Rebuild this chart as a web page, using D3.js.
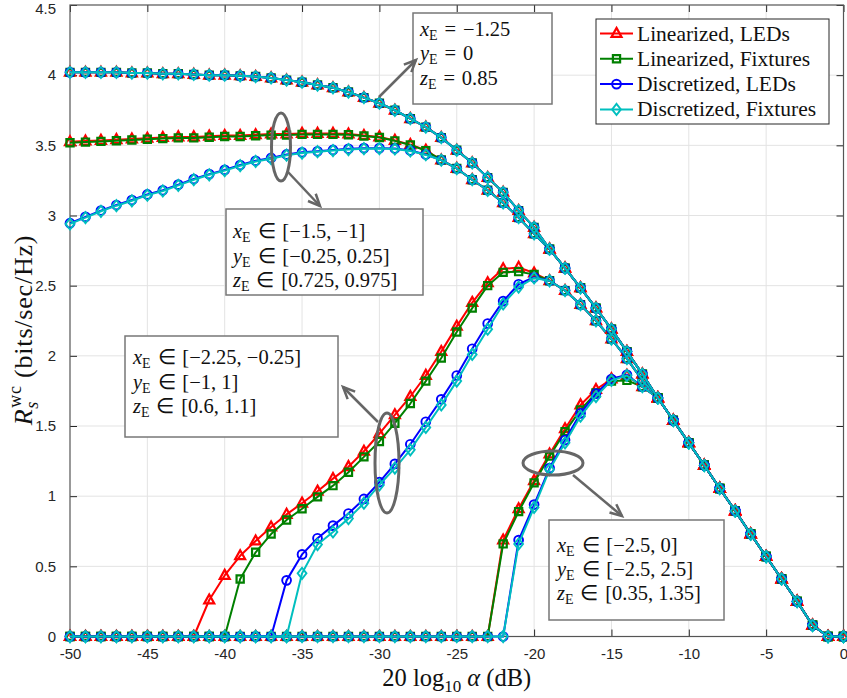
<!DOCTYPE html>
<html>
<head>
<meta charset="utf-8">
<script src="https://cdn.jsdelivr.net/npm/d3@7"></script>
<style>
  html, body { margin: 0; padding: 0; background: #fff; }
  svg { display: block; }
  text { white-space: pre; }
</style>
</head>
<body>
<svg id="chart" width="847" height="698"></svg>
<script>
// Attenuation grid, 20 log10(alpha) in dB
const attenuationDb = [
  -50, -49, -48, -47, -46, -45, -44, -43, -42, -41,
  -40, -39, -38, -37, -36, -35, -34, -33, -32, -31,
  -30, -29, -28, -27, -26, -25, -24, -23, -22, -21,
  -20, -19, -18, -17, -16, -15, -14, -13, -12, -11,
  -10, -9, -8, -7, -6, -5, -4, -3, -2, -1, 0
];

// Eavesdropper at a known point: all four schemes coincide
const rateKnown = [
  4.02, 4.02, 4.02, 4.02, 4.015, 4.015, 4.01, 4.01, 4.005, 4.0,
  4.0, 3.995, 3.99, 3.98, 3.965, 3.95, 3.93, 3.91, 3.88, 3.84,
  3.80, 3.75, 3.69, 3.63, 3.555, 3.465, 3.375, 3.27, 3.165, 3.035,
  2.915, 2.76, 2.625, 2.485, 2.34, 2.19, 2.03, 1.87, 1.70, 1.54,
  1.38, 1.22, 1.055, 0.895, 0.73, 0.57, 0.41, 0.25, 0.08, 0, 0
];

// Small uncertainty region
const rateSmallLinLed = [
  3.525, 3.53, 3.535, 3.54, 3.545, 3.55, 3.555, 3.56, 3.56, 3.565,
  3.57, 3.57, 3.575, 3.58, 3.58, 3.585, 3.585, 3.585, 3.58, 3.57,
  3.56, 3.535, 3.505, 3.465, 3.395, 3.335, 3.255, 3.18, 3.09, 2.985,
  2.87, 2.76, 2.625, 2.485, 2.34, 2.19, 2.03, 1.87, 1.70, 1.54,
  1.38, 1.22, 1.055, 0.895, 0.73, 0.57, 0.41, 0.25, 0.08, 0, 0
];
const rateSmallLinFix = [
  3.518, 3.523, 3.528, 3.533, 3.538, 3.543, 3.548, 3.553, 3.553, 3.558,
  3.563, 3.563, 3.568, 3.573, 3.573, 3.578, 3.578, 3.578, 3.575, 3.566,
  3.556, 3.532, 3.502, 3.462, 3.395, 3.335, 3.255, 3.18, 3.09, 2.985,
  2.87, 2.76, 2.625, 2.485, 2.34, 2.19, 2.03, 1.87, 1.70, 1.54,
  1.38, 1.22, 1.055, 0.895, 0.73, 0.57, 0.41, 0.25, 0.08, 0, 0
];
const rateSmallDisLed = [
  2.945, 2.99, 3.035, 3.075, 3.11, 3.15, 3.18, 3.22, 3.26, 3.295,
  3.325, 3.36, 3.39, 3.41, 3.435, 3.45, 3.458, 3.467, 3.475, 3.48,
  3.48, 3.477, 3.463, 3.435, 3.395, 3.335, 3.255, 3.18, 3.09, 2.985,
  2.87, 2.76, 2.625, 2.485, 2.34, 2.19, 2.03, 1.87, 1.70, 1.54,
  1.38, 1.22, 1.055, 0.895, 0.73, 0.57, 0.41, 0.25, 0.08, 0, 0
];
const rateSmallDisFix = [
  2.94, 2.985, 3.03, 3.07, 3.105, 3.145, 3.175, 3.215, 3.255, 3.29,
  3.32, 3.355, 3.385, 3.405, 3.43, 3.445, 3.455, 3.463, 3.47, 3.476,
  3.477, 3.474, 3.46, 3.433, 3.395, 3.335, 3.255, 3.18, 3.09, 2.985,
  2.87, 2.76, 2.625, 2.485, 2.34, 2.19, 2.03, 1.87, 1.70, 1.54,
  1.38, 1.22, 1.055, 0.895, 0.73, 0.57, 0.41, 0.25, 0.08, 0, 0
];

// Medium uncertainty region
const rateMedLinLed = [
  0, 0, 0, 0, 0, 0, 0, 0, 0, 0.26,
  0.435, 0.575, 0.68, 0.78, 0.87, 0.95, 1.035, 1.125, 1.21, 1.32,
  1.445, 1.58, 1.71, 1.86, 2.03, 2.21, 2.38, 2.52, 2.62, 2.63,
  2.59, 2.535, 2.465, 2.365, 2.25, 2.12, 1.98, 1.825, 1.70, 1.54,
  1.38, 1.22, 1.055, 0.895, 0.73, 0.57, 0.41, 0.25, 0.08, 0, 0
];
const rateMedLinFix = [
  0, 0, 0, 0, 0, 0, 0, 0, 0, 0,
  0, 0.41, 0.60, 0.73, 0.83, 0.91, 0.995, 1.075, 1.17, 1.28,
  1.39, 1.52, 1.66, 1.82, 1.985, 2.17, 2.34, 2.50, 2.595, 2.60,
  2.58, 2.535, 2.465, 2.365, 2.25, 2.12, 1.98, 1.825, 1.70, 1.54,
  1.38, 1.22, 1.055, 0.895, 0.73, 0.57, 0.41, 0.25, 0.08, 0, 0
];
const rateMedDisLed = [
  0, 0, 0, 0, 0, 0, 0, 0, 0, 0,
  0, 0, 0, 0, 0.40, 0.585, 0.70, 0.79, 0.876, 0.98,
  1.10, 1.23, 1.37, 1.53, 1.69, 1.86, 2.05, 2.23, 2.39, 2.51,
  2.56, 2.535, 2.465, 2.365, 2.25, 2.12, 1.98, 1.825, 1.70, 1.54,
  1.38, 1.22, 1.055, 0.895, 0.73, 0.57, 0.41, 0.25, 0.08, 0, 0
];
const rateMedDisFix = [
  0, 0, 0, 0, 0, 0, 0, 0, 0, 0,
  0, 0, 0, 0, 0, 0.45, 0.655, 0.745, 0.84, 0.95,
  1.08, 1.20, 1.33, 1.49, 1.65, 1.82, 2.01, 2.19, 2.37, 2.49,
  2.555, 2.535, 2.465, 2.365, 2.25, 2.12, 1.98, 1.825, 1.70, 1.54,
  1.38, 1.22, 1.055, 0.895, 0.73, 0.57, 0.41, 0.25, 0.08, 0, 0
];

// Large uncertainty region
const rateLargeLinLed = [
  0, 0, 0, 0, 0, 0, 0, 0, 0, 0,
  0, 0, 0, 0, 0, 0, 0, 0, 0, 0,
  0, 0, 0, 0, 0, 0, 0, 0, 0.687, 0.91,
  1.11, 1.30, 1.48, 1.65, 1.76, 1.835, 1.86, 1.78, 1.70, 1.54,
  1.38, 1.22, 1.055, 0.895, 0.73, 0.57, 0.41, 0.25, 0.08, 0, 0
];
const rateLargeLinFix = [
  0, 0, 0, 0, 0, 0, 0, 0, 0, 0,
  0, 0, 0, 0, 0, 0, 0, 0, 0, 0,
  0, 0, 0, 0, 0, 0, 0, 0, 0.66, 0.89,
  1.095, 1.285, 1.46, 1.615, 1.735, 1.82, 1.825, 1.78, 1.70, 1.54,
  1.38, 1.22, 1.055, 0.895, 0.73, 0.57, 0.41, 0.25, 0.08, 0, 0
];
const rateLargeDisLed = [
  0, 0, 0, 0, 0, 0, 0, 0, 0, 0,
  0, 0, 0, 0, 0, 0, 0, 0, 0, 0,
  0, 0, 0, 0, 0, 0, 0, 0, 0, 0.687,
  0.94, 1.20, 1.40, 1.59, 1.73, 1.835, 1.865, 1.78, 1.70, 1.54,
  1.38, 1.22, 1.055, 0.895, 0.73, 0.57, 0.41, 0.25, 0.08, 0, 0
];
const rateLargeDisFix = [
  0, 0, 0, 0, 0, 0, 0, 0, 0, 0,
  0, 0, 0, 0, 0, 0, 0, 0, 0, 0,
  0, 0, 0, 0, 0, 0, 0, 0, 0, 0.66,
  0.92, 1.19, 1.38, 1.57, 1.71, 1.825, 1.86, 1.78, 1.70, 1.54,
  1.38, 1.22, 1.055, 0.895, 0.73, 0.57, 0.41, 0.25, 0.08, 0, 0
];

// Schemes (legend order)
const schemeNames = ["Linearized, LEDs", "Linearized, Fixtures", "Discretized, LEDs", "Discretized, Fixtures"];
const schemeColors = ["#ff0000", "#008000", "#0000ff", "#00bfbf"];
const schemeMarkers = ["triangle", "square", "circle", "diamond"];

const xTicks = [-50, -45, -40, -35, -30, -25, -20, -15, -10, -5, 0];
const yTicks = [0, 0.5, 1, 1.5, 2, 2.5, 3, 3.5, 4, 4.5];

// Eavesdropper region descriptions (math spacing around relations)
const regionKnown = [["x", "E", "\u2004=\u2004−1.25"], ["y", "E", "\u2004=\u20040"], ["z", "E", "\u2004=\u20040.85"]];
const regionSmall = [["x", "E", "\u2004∈\u2004[−1.5, −1]"], ["y", "E", "\u2004∈\u2004[−0.25, 0.25]"], ["z", "E", "\u2004∈\u2004[0.725, 0.975]"]];
const regionMed = [["x", "E", "\u2004∈\u2004[−2.25, −0.25]"], ["y", "E", "\u2004∈\u2004[−1, 1]"], ["z", "E", "\u2004∈\u2004[0.6, 1.1]"]];
const regionLarge = [["x", "E", "\u2004∈\u2004[−2.5, 0]"], ["y", "E", "\u2004∈\u2004[−2.5, 2.5]"], ["z", "E", "\u2004∈\u2004[0.35, 1.35]"]];

// ---------------------------------------------------------------
const curveGroups = [
  [rateKnown, rateKnown, rateKnown, rateKnown],
  [rateSmallLinLed, rateSmallLinFix, rateSmallDisLed, rateSmallDisFix],
  [rateMedLinLed, rateMedLinFix, rateMedDisLed, rateMedDisFix],
  [rateLargeLinLed, rateLargeLinFix, rateLargeDisLed, rateLargeDisFix]
];

const svg = d3.select("#chart");
const plot = { left: 70, right: 843.5, top: 5, bottom: 636.5 };
const x = d3.scaleLinear().domain([-50, 0]).range([plot.left, plot.right]);
const y = d3.scaleLinear().domain([0, 4.5]).range([plot.bottom, plot.top]);

const tickFont = "'Liberation Sans', Arial, Helvetica, sans-serif";
const serif = "'Liberation Serif', 'Times New Roman', serif";
const axisColor = "#262626";

// grid
const grid = svg.append("g");
grid.selectAll("line.gx").data(xTicks.slice(1, -1)).join("line")
  .attr("x1", d => x(d)).attr("x2", d => x(d))
  .attr("y1", plot.top).attr("y2", plot.bottom)
  .attr("stroke", "#e3e3e3").attr("stroke-width", 1);
grid.selectAll("line.gy").data(yTicks.slice(1, -1)).join("line")
  .attr("y1", d => y(d)).attr("y2", d => y(d))
  .attr("x1", plot.left).attr("x2", plot.right)
  .attr("stroke", "#e3e3e3").attr("stroke-width", 1);

// axes with inward ticks on all four sides
const fmt = d => String(d);
function styleAxis(g) {
  g.select(".domain").remove();
  g.selectAll(".tick line").attr("stroke", axisColor).attr("stroke-width", 1);
  g.selectAll(".tick text").attr("fill", axisColor)
    .style("font-family", tickFont).style("font-size", "15px");
}
svg.append("g").attr("transform", `translate(0,${plot.bottom})`)
  .call(d3.axisBottom(x).tickValues(xTicks).tickFormat(fmt).tickSizeInner(-7).tickSizeOuter(0).tickPadding(12))
  .call(styleAxis);
svg.append("g").attr("transform", `translate(0,${plot.top})`)
  .call(d3.axisTop(x).tickValues(xTicks).tickFormat("").tickSizeInner(-7).tickSizeOuter(0))
  .call(styleAxis);
const yAxisG = svg.append("g").attr("transform", `translate(${plot.left},0)`)
  .call(d3.axisLeft(y).tickValues(yTicks).tickFormat(fmt).tickSizeInner(-7).tickSizeOuter(0).tickPadding(14))
  .call(styleAxis);
// keep the topmost label inside the canvas
yAxisG.selectAll(".tick text").filter(d => d === 4.5).attr("dy", "0.55em");
svg.append("g").attr("transform", `translate(${plot.right},0)`)
  .call(d3.axisRight(y).tickValues(yTicks).tickFormat("").tickSizeInner(-7).tickSizeOuter(0))
  .call(styleAxis);

svg.append("rect")
  .attr("x", plot.left).attr("y", plot.top)
  .attr("width", plot.right - plot.left).attr("height", plot.bottom - plot.top)
  .attr("fill", "none").attr("stroke", "#555").attr("stroke-width", 1.2);

// marker shapes
const markerPath = {
  triangle: "M0,-5.6L5,3.4L-5,3.4Z",
  square: "M-3.6,-3.6H3.6V3.6H-3.6Z",
  circle: "M4.4,0A4.4,4.4 0 1,1 -4.4,0A4.4,4.4 0 1,1 4.4,0Z",
  diamond: "M0,-5.6L4.4,0L0,5.6L-4.4,0Z"
};
const markerStroke = { triangle: 2.2, square: 2.2, circle: 1.9, diamond: 1.9 };

const line = d3.line().x((d, i) => x(attenuationDb[i])).y(d => y(d));
const curves = svg.append("g");
[3, 2, 1, 0].forEach(gi => {
  curveGroups[gi].forEach((vals, si) => {
    const g = curves.append("g");
    g.append("path").datum(vals)
      .attr("d", line).attr("fill", "none")
      .attr("stroke", schemeColors[si]).attr("stroke-width", 2)
      .attr("stroke-linejoin", "round");
    g.selectAll("path.m").data(vals).join("path")
      .attr("class", "m")
      .attr("d", markerPath[schemeMarkers[si]])
      .attr("transform", (d, i) => `translate(${x(attenuationDb[i])},${y(d)})`)
      .attr("fill", "none").attr("stroke", schemeColors[si])
      .attr("stroke-width", markerStroke[schemeMarkers[si]]);
  });
});

// math-style text helper: italic variable with roman subscript, then the rest
function mathLines(g, x0, baselines, rows, size) {
  rows.forEach((r, i) => {
    const t = g.append("text").attr("x", x0).attr("y", baselines[i])
      .style("font-family", serif).style("font-size", size + "px").attr("fill", "#111");
    t.append("tspan").style("font-style", "italic").text(r[0]);
    t.append("tspan").style("font-size", Math.round(size * 0.7) + "px").attr("dy", 4).text(r[1]);
    t.append("tspan").attr("dy", -4).text(r[2]);
  });
}

const annoColor = "#666";
function box(x0, y0, x1, y1) {
  svg.append("rect").attr("x", x0).attr("y", y0).attr("width", x1 - x0).attr("height", y1 - y0)
    .attr("fill", "#fff").attr("stroke", "#777").attr("stroke-width", 1.5);
}
function arrow(x0, y0, x1, y1) {
  const a = Math.atan2(y1 - y0, x1 - x0), L = 13, w = 0.42;
  svg.append("line").attr("x1", x0).attr("y1", y0).attr("x2", x1).attr("y2", y1)
    .attr("stroke", annoColor).attr("stroke-width", 2.5);
  svg.append("path")
    .attr("d", `M${x1 - L * Math.cos(a - w)},${y1 - L * Math.sin(a - w)}L${x1},${y1}L${x1 - L * Math.cos(a + w)},${y1 - L * Math.sin(a + w)}`)
    .attr("fill", "none").attr("stroke", annoColor).attr("stroke-width", 2.5).attr("stroke-linejoin", "miter");
}
function ellipse(cx, cy, rx, ry) {
  svg.append("ellipse").attr("cx", cx).attr("cy", cy).attr("rx", rx).attr("ry", ry)
    .attr("fill", "none").attr("stroke", annoColor).attr("stroke-width", 3);
}

// known eavesdropper location
box(413, 13, 552, 104);
mathLines(svg.append("g"), 420, [36, 60, 85], regionKnown, 20.5);
arrow(379, 97, 416, 60);

// small region
ellipse(281, 147, 9.5, 34);
arrow(288, 172, 320, 206);
box(226, 209, 423, 295);
mathLines(svg.append("g"), 233, [238, 263, 287], regionSmall, 20.5);

// medium region
ellipse(387, 463, 12, 50);
arrow(378, 422, 343, 387);
box(125, 336, 338, 437);
mathLines(svg.append("g"), 133, [364, 389, 413], regionMed, 20.5);

// large region
ellipse(553, 463, 30, 12);
arrow(573, 475, 622, 516);
box(549, 520, 724, 620);
mathLines(svg.append("g"), 557, [552, 576, 600], regionLarge, 20.5);

// legend
const leg = svg.append("g");
leg.append("rect").attr("x", 596).attr("y", 19).attr("width", 233).attr("height", 105)
  .attr("fill", "#fff").attr("stroke", "#262626").attr("stroke-width", 1);
schemeNames.forEach((name, i) => {
  const cy = 33.5 + i * 25.3;
  leg.append("line").attr("x1", 600).attr("x2", 633).attr("y1", cy).attr("y2", cy)
    .attr("stroke", schemeColors[i]).attr("stroke-width", 2);
  leg.append("path").attr("d", markerPath[schemeMarkers[i]])
    .attr("transform", `translate(616.5,${cy})`)
    .attr("fill", "none").attr("stroke", schemeColors[i])
    .attr("stroke-width", markerStroke[schemeMarkers[i]]);
  leg.append("text").attr("x", 637).attr("y", cy + 7)
    .style("font-family", serif).style("font-size", "21.5px").attr("fill", "#111")
    .text(name);
});

// axis labels
const xl = svg.append("text").attr("x", (plot.left + plot.right) / 2).attr("y", 686)
  .attr("text-anchor", "middle").style("font-family", serif).style("font-size", "24.5px").attr("fill", "#111");
xl.append("tspan").text("20 log");
xl.append("tspan").style("font-size", "17px").attr("dy", 6).text("10");
xl.append("tspan").attr("dy", -6).text(" ");
xl.append("tspan").style("font-style", "italic").text("α");
xl.append("tspan").text(" (dB)");

const yl = svg.append("text").attr("transform", "translate(32,330) rotate(-90)")
  .attr("text-anchor", "middle").style("font-family", serif).style("font-size", "26px")
  .style("letter-spacing", "0.8px").attr("fill", "#111");
yl.append("tspan").style("font-style", "italic").text("R");
yl.append("tspan").style("font-style", "italic").style("font-size", "18px").attr("dy", 6).text("s");
yl.append("tspan").style("font-size", "18px").attr("dx", -7).attr("dy", -17).text("wc");
yl.append("tspan").attr("dy", 11).text(" (bits/sec/Hz)");
</script>
</body>
</html>
